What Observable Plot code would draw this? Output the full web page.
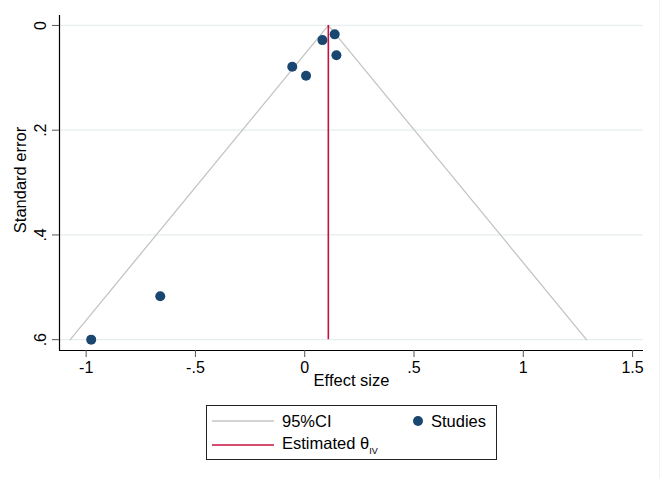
<!DOCTYPE html>
<html>
<head>
<meta charset="utf-8">
<script src="https://cdn.jsdelivr.net/npm/d3@7"></script>
<script src="https://cdn.jsdelivr.net/npm/@observablehq/plot@0.6"></script>
<style>
  html, body { margin: 0; padding: 0; background: #fff; }
  body { width: 662px; height: 478px; position: relative; overflow: hidden; font-family: "Liberation Sans", Arial, Helvetica, sans-serif; }
  #chart { position: absolute; left: 0; top: 0; }
  #edge { position: absolute; left: 659px; top: 0; width: 1px; height: 478px; background: #eef3f4; }
  #legend { position: absolute; left: 206px; top: 405px; width: 289px; height: 53px; border: 1px solid #222; box-sizing: content-box; font-size: 16.5px; color: #000; }
  .item { position: absolute; display: flex; align-items: center; }
  .item svg { display: block; }
  sub { font-size: 9px; vertical-align: -5px; }
</style>
</head>
<body>
<div id="chart"></div>
<div id="edge"></div>
<div id="legend">
  <div class="item" style="left:5px; top:5px;"><svg width="62" height="20"><line x1="0" y1="10" x2="62" y2="10" stroke="#c4c4c4" stroke-width="1.5"/></svg><span style="margin-left:8px">95%CI</span></div>
  <div class="item" style="left:204px; top:5px;"><svg width="14" height="20"><circle cx="7" cy="10" r="5" fill="#1a476f"/></svg><span style="margin-left:6px">Studies</span></div>
  <div class="item" style="left:5px; top:28px;"><svg width="62" height="20"><line x1="0" y1="10" x2="62" y2="10" stroke="#c8103e" stroke-width="1.5"/></svg><span style="margin-left:8px">Estimated θ<sub>IV</sub></span></div>
</div>
<script>
// Study data (effect size, standard error)
const effect = [-0.057, 0.006, 0.081, 0.137, 0.145, -0.661, -0.977];
const stderr = [0.079, 0.096, 0.028, 0.017, 0.057, 0.517, 0.600];
// Pooled estimate
const theta = 0.108;
// 95% CI funnel vertices
const funnelX = [-1.073, 0.108, 1.289];
const funnelY = [0.600, 0.000, 0.600];
// Ticks
const xTicks = [-1, -0.5, 0, 0.5, 1, 1.5];
const xTickLabels = ["-1", "-.5", "0", ".5", "1", "1.5"];
const yTicks = [0, 0.2, 0.4, 0.6];
const yTickLabels = ["0", ".2", ".4", ".6"];
const xDomain = [-1.122, 1.550];
const yDomain = [-0.019, 0.6207];

const studies = effect.map((e, i) => ({e, se: stderr[i]}));
const funnel = funnelX.map((x, i) => ({x, y: funnelY[i]}));

const plot = Plot.plot({
  width: 662,
  height: 400,
  marginLeft: 59,
  marginRight: 19,
  marginTop: 15,
  marginBottom: 50,
  style: {fontFamily: "'Liberation Sans', Arial, Helvetica, sans-serif", fontSize: "16px", background: "white", color: "#000"},
  x: {domain: xDomain},
  y: {domain: yDomain, reverse: true},
  marks: [
    Plot.ruleY(yTicks, {stroke: "#e6eef0", strokeWidth: 1.2}),
    Plot.line(funnel, {x: "x", y: "y", stroke: "#c4c4c4", strokeWidth: 1.3}),
    Plot.ruleX([theta], {y1: 0, y2: 0.6, stroke: "#c8103e", strokeWidth: 1.6}),
    Plot.dot(studies, {x: "e", y: "se", r: 5, fill: "#1a476f", stroke: "none"}),
    Plot.ruleX([xDomain[0]], {stroke: "#000", strokeWidth: 1.2}),
    Plot.ruleY([yDomain[1]], {stroke: "#000", strokeWidth: 1.2}),
    Plot.axisX({ticks: xTicks, tickFormat: (d) => xTickLabels[xTicks.indexOf(d)], tickSize: 7, tickPadding: 4, stroke: "#555", fontSize: 16, label: null}),
    Plot.axisY({ticks: yTicks, tickFormat: (d) => yTickLabels[yTicks.indexOf(d)], tickSize: 7, tickPadding: 4, stroke: "#555", fontSize: 16, label: null, text: null}),
    Plot.text(yTicks, {x: xDomain[0], y: d => d, text: d => yTickLabels[yTicks.indexOf(d)], rotate: -90, dx: -19, textAnchor: "middle", fontSize: 16}),
    Plot.text(["Effect size"], {frameAnchor: "bottom", dy: 35, fontSize: 16.5}),
    Plot.text(["Standard error"], {frameAnchor: "left", dx: -39, dy: -3, rotate: -90, textAnchor: "middle", fontSize: 16.5})
  ]
});
document.getElementById("chart").appendChild(plot);
</script>
</body>
</html>
